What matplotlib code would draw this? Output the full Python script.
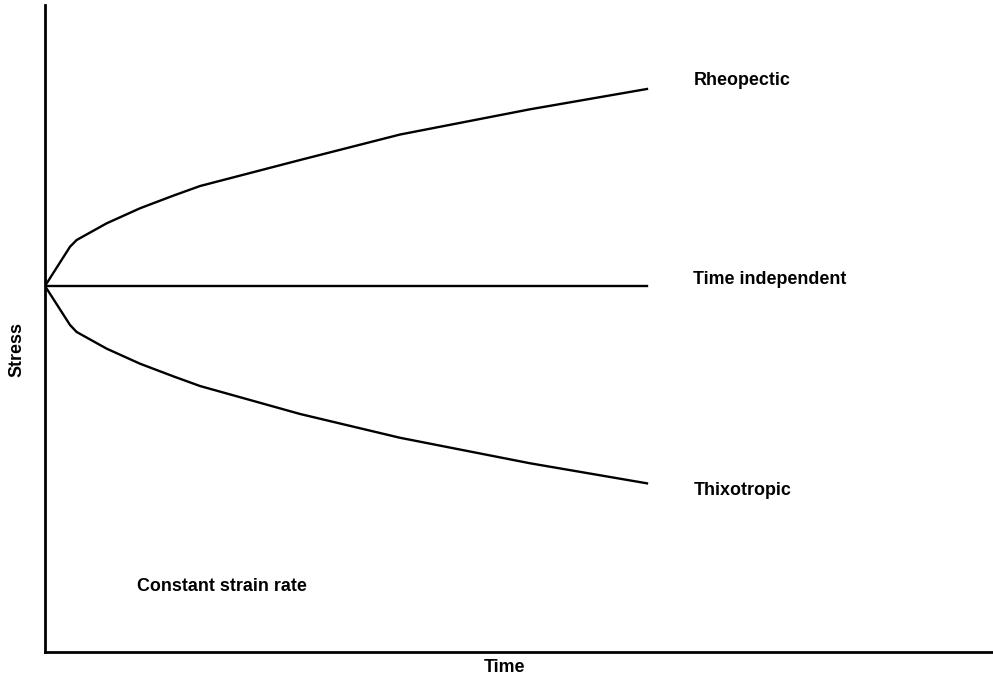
import matplotlib
matplotlib.use('Agg')
import matplotlib.pyplot as plt

plt.rcParams['font.family'] = ['Liberation Sans', 'DejaVu Sans']

# Time values (arbitrary units)
time = [0, 2.64, 3.34, 6.51, 10.02, 13.53, 16.35, 26.90, 37.45, 51.16, 63.5]
# Stress for each behaviour
rheopectic = [56.57, 62.64, 63.68, 66.26, 68.58, 70.53, 72.02, 76.04, 79.98, 83.88, 87.02]
time_independent = [56.57] * len(time)
thixotropic = [56.57, 50.54, 49.46, 46.88, 44.56, 42.61, 41.11, 36.79, 33.11, 29.17, 26.07]

labels = ['Rheopectic', 'Time independent', 'Thixotropic']

fig = plt.figure(figsize=(9.93, 6.80), dpi=100)
ax = fig.add_axes([45 / 993, 28 / 680, 948 / 993, 647 / 680])

for series in [rheopectic, time_independent, thixotropic]:
    ax.plot(time, series, color='black', linewidth=1.7,
            solid_joinstyle='round')

# Labels to the right of the curve ends
ax.text(68.4, 88.4, labels[0], fontsize=12.9, fontweight='bold', va='center')
ax.text(68.4, 57.6, labels[1], fontsize=12.9, fontweight='bold', va='center')
ax.text(68.4, 25.0, labels[2], fontsize=12.9, fontweight='bold', va='center')

ax.text(9.7, 10.2, 'Constant strain rate', fontsize=12.9, fontweight='bold',
        va='center')

ax.set_xlim(0, 100)
ax.set_ylim(0, 100)
ax.set_xticks([])
ax.set_yticks([])
ax.spines['top'].set_visible(False)
ax.spines['right'].set_visible(False)
ax.spines['left'].set_linewidth(2)
ax.spines['bottom'].set_linewidth(2)

fig.text(505 / 993, 1 - 668 / 680, 'Time', fontsize=12.9, fontweight='bold',
         ha='center', va='center')
fig.text(17 / 993, 1 - 350 / 680, 'Stress', fontsize=12.9, fontweight='bold',
         ha='center', va='center', rotation=90)

fig.savefig('out.png', dpi=100)
